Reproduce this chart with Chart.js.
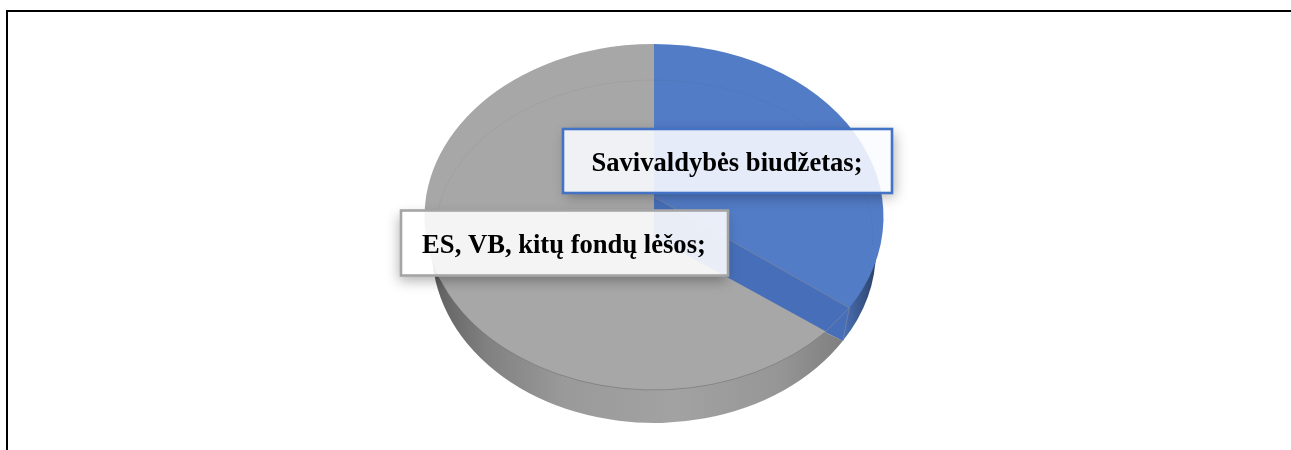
<!DOCTYPE html>
<html>
<head>
<meta charset="utf-8">
<style>
html,body{margin:0;padding:0;background:#fff;overflow:hidden}
#wrap{position:relative;width:1291px;height:450px}
#frameTop{position:absolute;left:6px;top:10px;right:0;height:2px;background:#000}
#frameLeft{position:absolute;left:6px;top:10px;bottom:0;width:2px;background:#000}
canvas{position:absolute;left:0;top:0}
</style>
<script src="https://cdn.jsdelivr.net/npm/chart.js@4/dist/chart.umd.js"></script>
</head>
<body>
<div id="wrap">
<canvas id="c" width="1291" height="450"></canvas>
<div id="frameTop"></div><div id="frameLeft"></div>
</div>
<script>
const categories = ['Savivaldybės biudžetas', 'ES, VB, kitų fondų lėšos'];
const shares = [33.8, 66.2];
const sliceColors = ['#527cc6', '#a7a7a7'];

const look = {
  cx: 654, cy: 217, rx: 229.5, ry: 173,
  sideCy: 250, sideRx: 222,
  apexLift: 20, wallDrop: 40,
  boxes: [
    {x: 563, y: 129, w: 329, h: 64, border: '#4472c4', fill: 'rgba(250,252,255,0.875)', sx: 3, sy: 4, dy: 3},
    {x: 401, y: 210.5, w: 327, h: 65, border: '#a5a5a5', fill: 'rgba(255,255,255,0.875)', sx: -2, sy: 5, dy: 3.5}
  ],
  band: '#476fb9',
  font: 'bold 26.6px "Liberation Serif"'
};

function sidePath(ctx, arc) {
  ctx.beginPath();
  ctx.moveTo(look.cx, look.sideCy);
  ctx.ellipse(look.cx, look.sideCy, look.sideRx, look.ry, 0, arc.startAngle, arc.endAngle);
  ctx.closePath();
}

const pie3d = {
  id: 'pie3d',
  beforeDatasetsDraw(chart) {
    const ctx = chart.ctx;
    const arcs = chart.getDatasetMeta(0).data;
    const left = look.cx - look.sideRx, right = look.cx + look.sideRx;
    const gray = ctx.createLinearGradient(left, 0, right, 0);
    gray.addColorStop(0, '#5f5f5f');
    gray.addColorStop(0.12, '#808080');
    gray.addColorStop(0.3, '#9a9a9a');
    gray.addColorStop(0.55, '#a2a2a2');
    gray.addColorStop(0.78, '#969696');
    gray.addColorStop(0.95, '#7b7b7b');
    const blue = ctx.createLinearGradient(look.cx + 190, 0, right, 0);
    blue.addColorStop(0, '#4a6fb5');
    blue.addColorStop(1, '#2b4268');
    ctx.save();
    ctx.fillStyle = blue; sidePath(ctx, arcs[0]); ctx.fill();
    ctx.fillStyle = gray; sidePath(ctx, arcs[1]); ctx.fill();
    ctx.restore();
    const a = arcs[0];
    ctx.save();
    ctx.translate(look.cx, look.cy);
    ctx.scale(look.rx / a.outerRadius, look.ry / a.outerRadius);
    ctx.translate(-a.x, -a.y);
  },
  afterDatasetsDraw(chart) {
    const ctx = chart.ctx;
    ctx.restore();
    const arcs = chart.getDatasetMeta(0).data;
    const end = arcs[0].endAngle;
    const lipX = look.cx + look.rx * Math.cos(end), lipY = look.cy + look.ry * Math.sin(end);
    const footX = look.cx + look.sideRx * Math.cos(end), footY = look.sideCy + look.ry * Math.sin(end);
    const apexY = look.cy - look.apexLift;
    ctx.save();
    ctx.lineWidth = 1;
    ctx.strokeStyle = 'rgba(70,70,70,0.07)';
    ctx.beginPath();
    ctx.ellipse(look.cx, 235, 219, 155, 0, Math.PI * 0.98, Math.PI * 2.02);
    ctx.stroke();
    ctx.strokeStyle = 'rgba(110,110,110,0.55)';
    ctx.beginPath();
    ctx.ellipse(look.cx, look.cy, look.rx, look.ry, 0, Math.PI * 0.2, Math.PI * 0.88);
    ctx.stroke();
    ctx.fillStyle = look.band;
    ctx.beginPath();
    ctx.moveTo(look.cx, apexY);
    ctx.lineTo(lipX, lipY);
    ctx.lineTo(footX, footY);
    ctx.lineTo(look.cx, apexY + look.wallDrop);
    ctx.closePath();
    ctx.fill();
    ctx.strokeStyle = 'rgba(125,135,160,0.7)';
    ctx.beginPath();
    ctx.moveTo(look.cx, apexY);
    ctx.lineTo(lipX, lipY);
    ctx.lineTo(footX, footY);
    ctx.moveTo(lipX, lipY);
    ctx.lineTo(lipX - 24, lipY + 24);
    ctx.stroke();
    ctx.restore();
  },
  afterDraw(chart) {
    const ctx = chart.ctx;
    look.boxes.forEach((b, i) => {
      ctx.save();
      ctx.shadowColor = 'rgba(0,0,0,0.3)';
      ctx.shadowBlur = 12;
      ctx.shadowOffsetX = b.sx;
      ctx.shadowOffsetY = b.sy;
      ctx.beginPath();
      ctx.rect(0, 0, 1291, 450);
      ctx.rect(b.x, b.y, b.w, b.h);
      ctx.clip('evenodd');
      ctx.fillStyle = '#fff';
      ctx.fillRect(b.x, b.y, b.w, b.h);
      ctx.restore();
      ctx.save();
      ctx.fillStyle = b.fill;
      ctx.fillRect(b.x, b.y, b.w, b.h);
      ctx.strokeStyle = b.border;
      ctx.lineWidth = 2.6;
      ctx.strokeRect(b.x, b.y, b.w, b.h);
      ctx.fillStyle = '#000';
      ctx.font = look.font;
      ctx.textAlign = 'center';
      ctx.textBaseline = 'middle';
      ctx.fillText(categories[i] + ';', b.x + b.w / 2 - 0.5, b.y + b.h / 2 + b.dy);
      ctx.restore();
    });
  }
};

new Chart(document.getElementById('c'), {
  type: 'pie',
  data: {
    labels: categories,
    datasets: [{ data: shares, backgroundColor: sliceColors, borderWidth: 0 }]
  },
  options: {
    responsive: false,
    animation: false,
    plugins: { legend: { display: false }, tooltip: { enabled: false } }
  },
  plugins: [pie3d]
});
</script>
</body>
</html>
